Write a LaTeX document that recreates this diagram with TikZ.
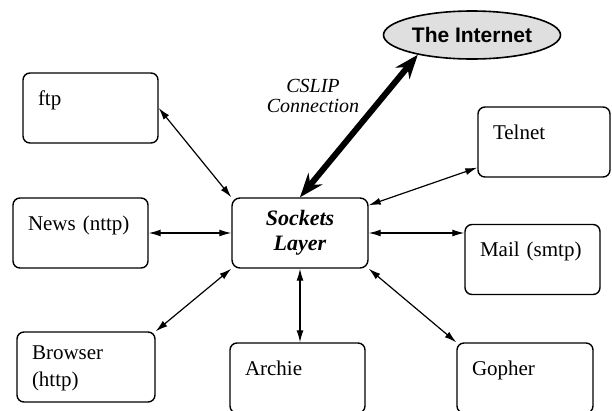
\documentclass[tikz,border=0pt]{standalone}
\usepackage{fontspec}
\setmainfont{Liberation Serif}
\newfontfamily\inetfont{Liberation Sans}
\usetikzlibrary{arrows.meta,shapes.geometric}
\begin{document}
\begin{tikzpicture}[x=1pt,y=-1pt,
  app/.style={draw,line width=1.4pt,rounded corners=7pt,inner xsep=15pt,inner ysep=0pt,text width=\appw pt,text height=32pt,text depth=38pt,align=left,font=\fontsize{21}{27}\selectfont},
  sockbox/.style={draw,line width=1.4pt,rounded corners=8pt,minimum width=136pt,minimum height=70pt,align=center,font=\bfseries\itshape\fontsize{22}{25}\selectfont},
  netoval/.style={ellipse,draw,line width=1.6pt,fill=gray!25,minimum width=177pt,minimum height=48pt,inner sep=0pt,font=\inetfont\bfseries\fontsize{21}{24}\selectfont},
  link/.style={{Latex[length=12pt,width=7pt]}-{Latex[length=12pt,width=7pt]},line width=1.2pt},
  slip/.style={{Stealth[length=24pt,width=18pt]}-{Stealth[length=24pt,width=18pt]},line width=6pt}]

\def\appw{105}

\useasboundingbox (0,0) rectangle (612,410);

\node[sockbox] (sock) at (300,233) {Sockets\\Layer};
\node[netoval] (inet) at (472,35) {The Internet};

\node[app] (ftp) at (90.5,108) {ftp};
\node[app] (news) at (80.5,233) {News (nttp)};
\node[app,text width=108pt,text height=27pt,text depth=43pt] (browser) at (86,367) {Browser\\(http)};
\node[app] (archie) at (297.5,378) {Archie};
\node[app,text width=106pt] (gopher) at (525,378) {Gopher};
\node[app] (mail) at (532.5,259.5) {Mail (smtp)};
\node[app,text width=102pt] (telnet) at (544,142) {Telnet};

% link to the net
\draw[slip] (sock.north) -- (inet.200);
\node[font=\itshape\fontsize{20}{20}\selectfont,align=center] (cslip) at (313,96) {CSLIP\\Connection};

% applications
\draw[link] (ftp.east) -- (sock.north west);
\draw[link] (news.east) -- (sock.west);
\draw[link] (sock.south west) -- (browser.north east);
\draw[link] (sock.south) -- (sock.south |- archie.north);
\draw[link] (sock.south east) -- (gopher.north west);
\draw[link] (sock.east) -- (sock.east -| mail.west);
\draw[link] (sock.22) -- (telnet.201);
\end{tikzpicture}
\end{document}
